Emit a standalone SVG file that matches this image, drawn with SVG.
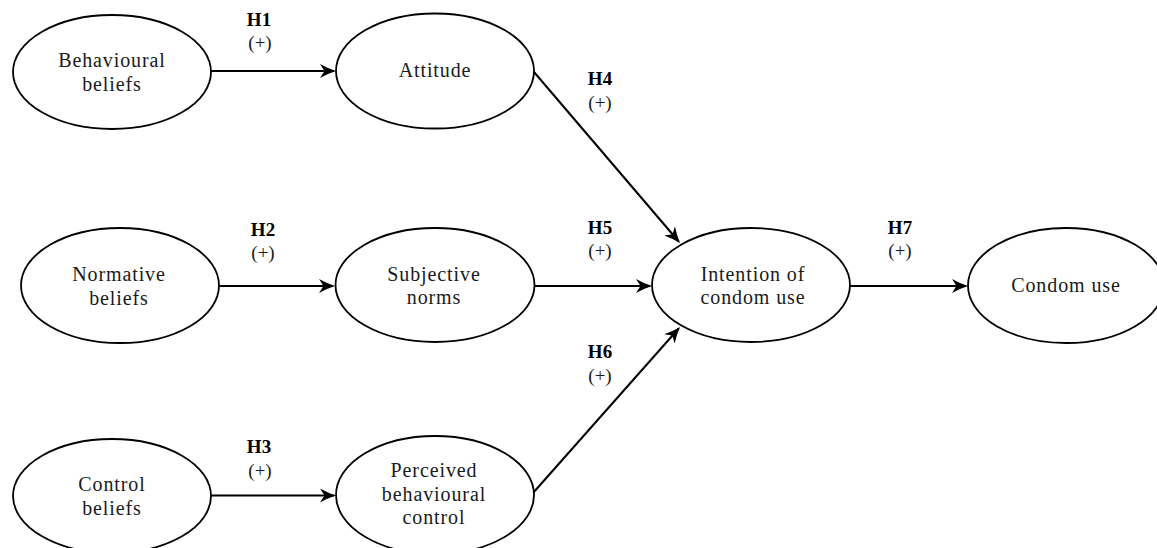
<svg xmlns="http://www.w3.org/2000/svg" width="1157" height="548" viewBox="0 0 1157 548">
  <style>
    .node ellipse { fill: #ffffff; stroke: #000000; stroke-width: 1.8; }
    .node text { font-family: "Liberation Serif", "Times New Roman", serif; font-size: 20px; letter-spacing: 0.9px; fill: #1a1a1a; text-anchor: middle; }
    .edge { fill: none; stroke: #000000; stroke-width: 2; marker-end: url(#arrow); }
    .lbl { font-family: "Liberation Serif", "Times New Roman", serif; font-size: 19px; fill: #1a1a1a; text-anchor: middle; }
    .lbl.h { font-weight: bold; fill: #000000; }
  </style>
  <defs>
    <marker id="arrow" viewBox="0 0 16 14" markerWidth="16" markerHeight="14" refX="14" refY="7" orient="auto" markerUnits="userSpaceOnUse">
      <path d="M0,0 Q8,4.5 16,7 Q8,9.5 0,14 L4.5,7 Z" fill="#000000"/>
    </marker>
  </defs>

  <rect x="0" y="0" width="1157" height="548" fill="#ffffff"/>

  <g id="connectors">
    <path class="edge" d="M211,71 L334,71"/>
    <path class="edge" d="M219,286 L333,286"/>
    <path class="edge" d="M211,495.5 L334,495.5"/>
    <path class="edge" d="M534,72 L678.7,241.5"/>
    <path class="edge" d="M534,286 L650,286"/>
    <path class="edge" d="M533,493 L678.7,328.5"/>
    <path class="edge" d="M850,286 L966,286"/>
  </g>

  <g id="edge-labels">
    <text class="lbl h" x="259" y="26">H1</text>
    <text class="lbl" x="260" y="49">(+)</text>
    <text class="lbl h" x="263" y="236">H2</text>
    <text class="lbl" x="263" y="259">(+)</text>
    <text class="lbl h" x="259" y="453">H3</text>
    <text class="lbl" x="260" y="477">(+)</text>
    <text class="lbl h" x="600" y="85">H4</text>
    <text class="lbl" x="600" y="109">(+)</text>
    <text class="lbl h" x="600" y="234">H5</text>
    <text class="lbl" x="600" y="257">(+)</text>
    <text class="lbl h" x="600" y="358">H6</text>
    <text class="lbl" x="600" y="382">(+)</text>
    <text class="lbl h" x="900" y="234">H7</text>
    <text class="lbl" x="900" y="257">(+)</text>
  </g>

  <g id="behavioural-beliefs" class="node">
    <ellipse cx="112" cy="72" rx="99" ry="57"/>
    <text x="112" y="67">Behavioural</text>
    <text x="112" y="91">beliefs</text>
  </g>

  <g id="attitude" class="node">
    <ellipse cx="435" cy="71" rx="99" ry="57.5"/>
    <text x="435" y="77">Attitude</text>
  </g>

  <g id="normative-beliefs" class="node">
    <ellipse cx="120" cy="285.5" rx="99" ry="57.5"/>
    <text x="119" y="281">Normative</text>
    <text x="119" y="305">beliefs</text>
  </g>

  <g id="subjective-norms" class="node">
    <ellipse cx="435" cy="285" rx="99.5" ry="57"/>
    <text x="434" y="281">Subjective</text>
    <text x="434" y="304">norms</text>
  </g>

  <g id="intention" class="node">
    <ellipse cx="751" cy="285" rx="99" ry="57"/>
    <text x="753" y="281">Intention of</text>
    <text x="753" y="304">condom use</text>
  </g>

  <g id="condom-use" class="node">
    <ellipse cx="1066" cy="285.5" rx="98" ry="57.5"/>
    <text x="1066" y="292">Condom use</text>
  </g>

  <g id="control-beliefs" class="node">
    <ellipse cx="112" cy="496" rx="99" ry="57"/>
    <text x="112" y="491">Control</text>
    <text x="112" y="515">beliefs</text>
  </g>

  <g id="perceived-behavioural-control" class="node">
    <ellipse cx="435" cy="495" rx="99" ry="59"/>
    <text x="434" y="477">Perceived</text>
    <text x="434" y="500.5">behavioural</text>
    <text x="434" y="524">control</text>
  </g>
</svg>
